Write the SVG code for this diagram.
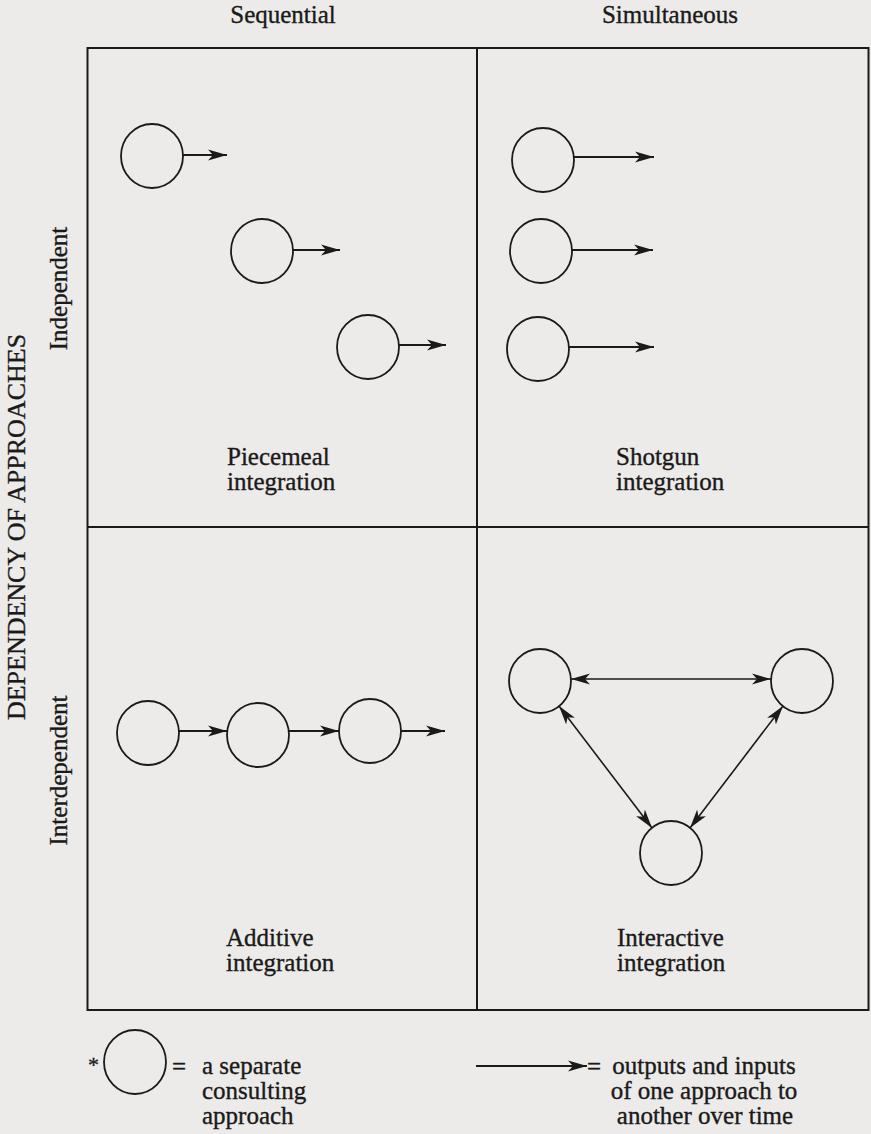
<svg xmlns="http://www.w3.org/2000/svg" width="871" height="1134" viewBox="0 0 871 1134">
<style>
  .bg { fill: #ecebe9; }
  .frame { fill: none; stroke: #1a1a1a; stroke-width: 2; }
  .circ { fill: none; stroke: #1a1a1a; stroke-width: 1.8; }
  .arr { fill: none; stroke: #1a1a1a; stroke-width: 1.8; marker-end: url(#ah); }
  .darr { fill: none; stroke: #1a1a1a; stroke-width: 1.6; marker-end: url(#ah); marker-start: url(#ah); }
  text { font-family: "Liberation Serif", "Times New Roman", serif; fill: #1a1a1a; stroke: #1a1a1a; stroke-width: 0.35; font-size: 25px; }
  .big { font-size: 26px; }
</style>
<defs>
  <marker id="ah" markerUnits="userSpaceOnUse" viewBox="0 -6 20 12" refX="19" refY="0" markerWidth="20" markerHeight="12" orient="auto-start-reverse">
    <path d="M0,-5.5 L19,0 L0,5.5 L5,0 Z" fill="#1a1a1a"/>
  </marker>
</defs>
<rect class="bg" x="0" y="0" width="871" height="1134"/>

<g id="axes">
  <text x="283" y="23" text-anchor="middle">Sequential</text>
  <text x="670" y="23" text-anchor="middle">Simultaneous</text>
  <text class="big" transform="translate(25,527) rotate(-90)" text-anchor="middle">DEPENDENCY OF APPROACHES</text>
  <text transform="translate(67,288.5) rotate(-90)" text-anchor="middle">Independent</text>
  <text transform="translate(67,770.5) rotate(-90)" text-anchor="middle">Interdependent</text>
</g>

<g id="grid">
  <rect class="frame" x="87.5" y="48" width="781" height="962"/>
  <line class="frame" x1="477" y1="48" x2="477" y2="1010"/>
  <line class="frame" x1="87.5" y1="527" x2="868.5" y2="527"/>
</g>

<g id="piecemeal">
  <ellipse class="circ" cx="152" cy="156" rx="31" ry="32"/>
  <ellipse class="circ" cx="262" cy="251" rx="31" ry="32"/>
  <ellipse class="circ" cx="368" cy="347" rx="31" ry="32"/>
  <text x="227" y="465">Piecemeal</text>
  <text x="227" y="490">integration</text>
</g>

<g id="shotgun">
  <ellipse class="circ" cx="543" cy="160" rx="31" ry="32"/>
  <ellipse class="circ" cx="541" cy="251" rx="31" ry="32"/>
  <ellipse class="circ" cx="538" cy="349" rx="31" ry="32"/>
  <text x="616" y="465">Shotgun</text>
  <text x="616" y="490">integration</text>
</g>

<g id="additive">
  <ellipse class="circ" cx="148" cy="733" rx="31" ry="32"/>
  <ellipse class="circ" cx="258" cy="735" rx="31" ry="32"/>
  <ellipse class="circ" cx="370" cy="731" rx="31" ry="32"/>
  <text x="226" y="946">Additive</text>
  <text x="226" y="971">integration</text>
</g>

<g id="interactive">
  <ellipse class="circ" cx="540" cy="681" rx="31" ry="32"/>
  <ellipse class="circ" cx="802" cy="681" rx="31" ry="32"/>
  <ellipse class="circ" cx="671" cy="853" rx="31" ry="32"/>
  <text x="617" y="946">Interactive</text>
  <text x="617" y="971">integration</text>
</g>

<g id="connectors">
  <line class="arr" x1="183" y1="155" x2="227" y2="155"/>
  <line class="arr" x1="293" y1="250" x2="340" y2="250"/>
  <line class="arr" x1="399" y1="345" x2="446" y2="345"/>
  <line class="arr" x1="574" y1="157" x2="654" y2="157"/>
  <line class="arr" x1="572" y1="250" x2="653" y2="250"/>
  <line class="arr" x1="569" y1="347" x2="654" y2="347"/>
  <line class="arr" x1="179" y1="731" x2="227" y2="731"/>
  <line class="arr" x1="289" y1="731" x2="339" y2="731"/>
  <line class="arr" x1="401" y1="731" x2="445" y2="731"/>
  <line class="darr" x1="571" y1="679" x2="771" y2="679"/>
  <line class="darr" x1="559" y1="706" x2="652" y2="828"/>
  <line class="darr" x1="783" y1="706" x2="690" y2="828"/>
</g>

<g id="legend-circle">
  <text x="88" y="1072" style="font-size:22px">*</text>
  <ellipse class="circ" cx="135" cy="1062" rx="31" ry="32"/>
  <text x="172" y="1075">=</text>
  <text x="202" y="1074">a separate</text>
  <text x="202" y="1099">consulting</text>
  <text x="202" y="1124">approach</text>
</g>

<g id="legend-arrow">
  <line class="arr" x1="476" y1="1066" x2="587" y2="1066"/>
  <text x="587" y="1075">=</text>
  <text x="704" y="1074" text-anchor="middle">outputs and inputs</text>
  <text x="704" y="1099" text-anchor="middle">of one approach to</text>
  <text x="705" y="1124" text-anchor="middle">another over time</text>
</g>
</svg>
